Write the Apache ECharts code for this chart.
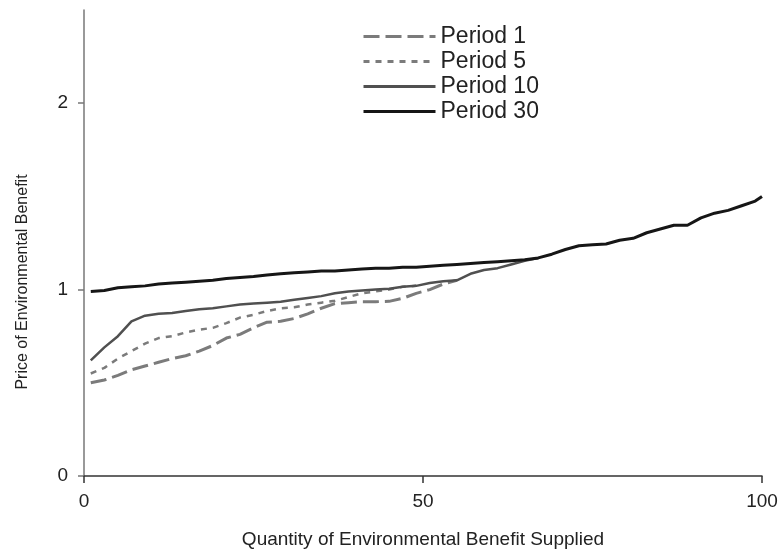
<!DOCTYPE HTML>
<html>
    <head>
        <meta charset="UTF-8">
        <title>Price of Environmental Benefit</title>
        <style>
            html,body{margin:0;width:100%;height:100%;background:#fff;}
            #wrap{width:782px;height:557px;}
        </style>
    </head>
    <body>
        <div id="wrap"></div>

        <script src="https://cdn.jsdelivr.net/npm/echarts@6/dist/echarts.min.js"></script>
        <script>
            // quantity supplied (x) shared by all series
            let qty = [1,3,5,7,9,11,13,15,17,19,21,23,25,27,29,31,33,35,37,39,41,43,45,47,49,
                       51,53,55,57,59,61,63,65,67,69,71,73,75,77,79,81,83,85,87,89,91,93,95,97,99,100];

            let period1 = [0.50,0.515,0.54,0.57,0.59,0.61,0.63,0.645,0.67,0.70,0.74,0.76,0.795,0.825,0.83,
                           0.845,0.87,0.90,0.925,0.93,0.935,0.935,0.937,0.953,0.98,1.0,1.03,1.05];
            let period5 = [0.55,0.58,0.63,0.67,0.71,0.74,0.75,0.77,0.785,0.795,0.82,0.85,0.865,0.885,0.90,
                           0.905,0.92,0.93,0.94,0.96,0.98,0.99,1.0,1.015,1.02];
            let period10 = [0.62,0.69,0.75,0.83,0.86,0.87,0.875,0.885,0.895,0.90,0.91,0.92,0.925,0.93,0.935,
                            0.945,0.955,0.965,0.98,0.99,0.995,1.0,1.005,1.015,1.02,1.035,1.045,1.05,1.085,
                            1.105,1.115,1.135,1.155,1.17];
            let period30 = [0.99,0.995,1.01,1.015,1.02,1.03,1.035,1.04,1.045,1.05,1.06,1.065,1.07,1.078,1.085,
                            1.09,1.095,1.10,1.10,1.105,1.11,1.115,1.115,1.12,1.12,1.125,1.13,1.135,1.14,1.145,
                            1.15,1.155,1.16,1.17,1.19,1.215,1.235,1.24,1.245,1.265,1.275,1.305,1.325,1.345,
                            1.345,1.385,1.41,1.425,1.45,1.475,1.5];

            let names = ['Period 1','Period 5','Period 10','Period 30'];
            let yTicks = [0,1,2];
            let xTicks = [0,50,100];

            function pairs(vals){
                return vals.map((v,i)=>[qty[i],v]);
            }

            let font = '"Liberation Sans", Arial, sans-serif';
            let styles = [
                {color:'#7b7b7b', width:3, type:[16,6]},
                {color:'#7b7b7b', width:2.5, type:[6,6]},
                {color:'#505050', width:2.5, type:'solid'},
                {color:'#161616', width:3, type:'solid'}
            ];
            let values = [period1, period5, period10, period30];

            let series = names.map((n,i)=>({
                name: n,
                type: 'line',
                symbol: 'none',
                data: pairs(values[i]),
                lineStyle: styles[i],
                itemStyle: {color: styles[i].color},
                z: 2 + i,
                animation: false
            }));

            let mycharts = echarts.init(document.getElementById('wrap'));
            mycharts.setOption({
                backgroundColor: '#fff',
                animation: false,
                grid: {left: 84, right: 20, top: 10, bottom: 81},
                legend: {
                    orient: 'vertical',
                    left: 357,
                    top: 19,
                    itemWidth: 72,
                    itemHeight: 12,
                    itemGap: 0,
                    data: names,
                    itemStyle: {opacity: 0},
                    lineStyle: {width: 3},
                    textStyle: {fontFamily: font, fontSize: 23, color: '#222', lineHeight: 25}
                },
                xAxis: {
                    type: 'value',
                    min: 0, max: 100, interval: 50,
                    name: 'Quantity of Environmental Benefit Supplied',
                    nameLocation: 'middle',
                    nameGap: 54,
                    nameTextStyle: {fontFamily: font, fontSize: 19, color: '#222'},
                    axisLine: {lineStyle: {color: '#333', width: 1.5}},
                    axisTick: {length: 7, lineStyle: {color: '#333', width: 1.5}, customValues: xTicks},
                    axisLabel: {fontFamily: font, fontSize: 19, color: '#222', margin: 16, customValues: xTicks},
                    splitLine: {show: false}
                },
                yAxis: {
                    type: 'value',
                    min: 0, max: 2.5, interval: 1,
                    axisLine: {show: true, lineStyle: {color: '#777', width: 1.5}},
                    axisTick: {show: true, length: 6, lineStyle: {color: '#777', width: 1.5}, customValues: yTicks},
                    axisLabel: {fontFamily: font, fontSize: 19, color: '#222', margin: 16, customValues: yTicks},
                    splitLine: {show: false}
                },
                graphic: [{
                    type: 'text',
                    x: 23, y: 282,
                    rotation: Math.PI / 2,
                    style: {
                        text: 'Price of Environmental Benefit',
                        font: '16px ' + font,
                        fill: '#222',
                        textAlign: 'center',
                        textVerticalAlign: 'middle'
                    }
                }],
                series
            });
        </script>
    </body>
</html>
